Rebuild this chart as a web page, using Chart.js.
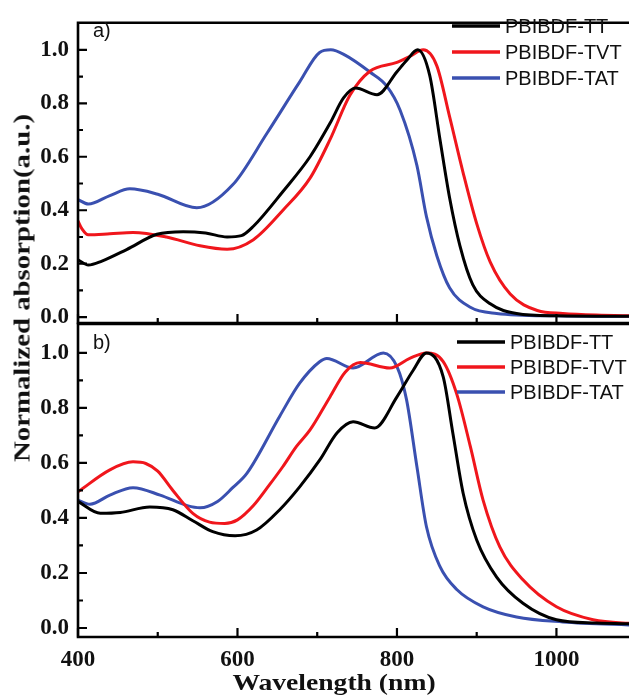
<!DOCTYPE html>
<html>
<head>
<meta charset="utf-8">
<script src="https://cdn.jsdelivr.net/npm/chart.js@4.4.1/dist/chart.umd.min.js"></script>
<style>
body { margin: 0; background: #fff; }
#wrap { position: relative; width: 629px; height: 695px; overflow: hidden; background: #fff; }
#wrap canvas { position: absolute; left: 0; top: 0; }
.ttl { position: absolute; font-family: "Liberation Serif", "Times New Roman", serif; font-weight: bold; color: #111; white-space: nowrap; }
#ytitle { left: 22px; top: 288px; font-size: 24px; transform: translate(-50%, -50%) rotate(-90deg) scaleX(1.2); }
#xtitle { left: 334px; top: 683px; font-size: 23px; transform: translate(-50%, -50%) scaleX(1.2); }
</style>
</head>
<body>
<div id="wrap">
  <canvas id="chartA" width="629" height="695"></canvas>
  <canvas id="chartB" width="629" height="695"></canvas>
  <div class="ttl" id="ytitle">Normalized absorption(a.u.)</div>
  <div class="ttl" id="xtitle">Wavelength (nm)</div>
</div>
<script>
let chartA; // panel a)
let chartB; // panel b)

// tick labels
const yTicks = [0, 0.2, 0.4, 0.6, 0.8, 1.0];
const yMinor = [0.1, 0.3, 0.5, 0.7, 0.9];
const xTicks = [400, 600, 800, 1000];
const xMinor = [500, 700, 900];

const seriesNames = ['PBIBDF-TT', 'PBIBDF-TVT', 'PBIBDF-TAT'];

// a) 
const aTT_nm  = [400, 413, 430, 461, 499, 532, 560, 587, 605, 620, 657, 691, 716, 733, 748, 775, 800, 812, 826, 841, 854, 866, 879, 895, 917, 950, 1000, 1100];
const aTT_abs = [0.215, 0.195, 0.21, 0.253, 0.31, 0.32, 0.315, 0.30, 0.305, 0.34, 0.47, 0.60, 0.725, 0.82, 0.857, 0.832, 0.918, 0.96, 1.0, 0.905, 0.664, 0.447, 0.267, 0.122, 0.05, 0.014, 0.005, 0.003];

const aTVT_nm  = [400, 405, 413, 440, 469, 511, 553, 587, 620, 657, 691, 716, 741, 766, 800, 816, 833, 850, 866, 883, 900, 917, 942, 976, 1008, 1050, 1100];
const aTVT_abs = [0.36, 0.33, 0.308, 0.312, 0.317, 0.30, 0.267, 0.254, 0.29, 0.40, 0.52, 0.664, 0.83, 0.92, 0.953, 0.975, 1.0, 0.94, 0.75, 0.54, 0.35, 0.206, 0.087, 0.025, 0.014, 0.008, 0.005];

const aTAT_nm  = [400, 413, 440, 465, 500, 549, 594, 637, 678, 703, 717, 735, 766, 787, 804, 825, 837, 850, 866, 892, 925, 1000, 1100];
const aTAT_abs = [0.44, 0.423, 0.455, 0.48, 0.46, 0.409, 0.495, 0.688, 0.88, 0.99, 1.0, 0.98, 0.917, 0.865, 0.774, 0.568, 0.376, 0.23, 0.11, 0.037, 0.014, 0.005, 0.003];

// b)
const bTT_nm  = [400, 428, 453, 490, 519, 544, 569, 597, 624, 653, 678, 703, 725, 745, 772, 800, 820, 837, 858, 870, 883, 900, 925, 958, 1000, 1050, 1100];
const bTT_abs = [0.46, 0.417, 0.42, 0.44, 0.43, 0.39, 0.35, 0.335, 0.356, 0.43, 0.513, 0.61, 0.71, 0.75, 0.727, 0.84, 0.935, 1.0, 0.913, 0.71, 0.49, 0.32, 0.185, 0.09, 0.03, 0.018, 0.015];

const bTVT_nm  = [400, 440, 469, 485, 500, 519, 544, 565, 584, 600, 620, 640, 657, 674, 691, 716, 735, 754, 791, 816, 837, 858, 875, 892, 908, 929, 958, 1000, 1046, 1100];
const bTVT_abs = [0.495, 0.575, 0.604, 0.598, 0.57, 0.50, 0.417, 0.385, 0.38, 0.393, 0.445, 0.52, 0.587, 0.66, 0.72, 0.84, 0.93, 0.965, 0.945, 0.98, 1.0, 0.968, 0.85, 0.66, 0.465, 0.295, 0.175, 0.077, 0.03, 0.015];

const bTAT_nm  = [400, 415, 440, 469, 503, 537, 553, 575, 594, 612, 653, 678, 703, 712, 745, 783, 800, 812, 825, 837, 854, 875, 908, 950, 1008, 1100];
const bTAT_abs = [0.465, 0.45, 0.483, 0.51, 0.483, 0.445, 0.437, 0.46, 0.51, 0.563, 0.77, 0.89, 0.968, 0.98, 0.945, 1.0, 0.95, 0.83, 0.587, 0.368, 0.223, 0.14, 0.077, 0.04, 0.022, 0.01];

const lineColors = ['#000000', '#f0161c', '#3a50b0'];

function toPoints(xs, ys) {
    return xs.map((x, i) => ({ x: x, y: ys[i] }));
}

// frame (top/left/bottom) + inward ticks
const frameTicks = {
    id: 'frameTicks',
    afterDatasetsDraw(chart) {
        const { ctx, chartArea: a, scales: { x, y } } = chart;
        ctx.save();
        ctx.strokeStyle = '#000';
        ctx.lineWidth = 2.6;
        ctx.lineJoin = 'miter';
        ctx.beginPath();
        ctx.moveTo(a.right + 5, a.top);
        ctx.lineTo(a.left, a.top);
        ctx.lineTo(a.left, a.bottom);
        ctx.lineTo(a.right + 5, a.bottom);
        ctx.stroke();

        ctx.lineWidth = 2.2;
        ctx.beginPath();
        yTicks.forEach(v => { const p = y.getPixelForValue(v); ctx.moveTo(a.left, p); ctx.lineTo(a.left + 9, p); });
        yMinor.forEach(v => { const p = y.getPixelForValue(v); ctx.moveTo(a.left, p); ctx.lineTo(a.left + 5, p); });
        xTicks.forEach(v => { const p = x.getPixelForValue(v); ctx.moveTo(p, a.bottom); ctx.lineTo(p, a.bottom - 9); });
        xMinor.forEach(v => { const p = x.getPixelForValue(v); ctx.moveTo(p, a.bottom); ctx.lineTo(p, a.bottom - 5); });
        ctx.stroke();
        ctx.restore();
    }
};

// legend + panel tag drawn inside the plot
const panelLegend = {
    id: 'panelLegend',
    afterDraw(chart, args, opts) {
        const ctx = chart.ctx;
        ctx.save();
        ctx.font = '20px "Liberation Sans", Arial, sans-serif';
        ctx.textBaseline = 'middle';
        ctx.fillStyle = '#111';
        ctx.fillText(opts.tag, opts.tagX, opts.tagY);
        chart.data.datasets.forEach((ds, i) => {
            const yy = opts.y + i * opts.step;
            ctx.strokeStyle = ds.borderColor;
            ctx.lineWidth = 3.5;
            ctx.beginPath();
            ctx.moveTo(opts.x, yy);
            ctx.lineTo(opts.x + 48, yy);
            ctx.stroke();
            ctx.fillStyle = '#111';
            ctx.fillText(ds.label, opts.x + 53, yy + 1);
        });
        ctx.restore();
    }
};

function makeDatasets(sets) {
    return sets.map((s, i) => ({
        label: seriesNames[i],
        data: toPoints(s[0], s[1]),
        borderColor: lineColors[i],
        backgroundColor: lineColors[i],
        borderWidth: 3,
        pointRadius: 0,
        fill: false,
        cubicInterpolationMode: 'monotone'
    }));
}

function drawPanel(id, sets, yMin, yMax, pad, showX, legendOpts) {
    const ctx = document.getElementById(id).getContext('2d');
    const config = {
        type: 'line',
        data: { datasets: makeDatasets(sets) },
        options: {
            responsive: false,
            animation: false,
            events: [],
            layout: { padding: pad },
            plugins: {
                legend: { display: false },
                tooltip: { enabled: false },
                panelLegend: legendOpts
            },
            scales: {
                x: {
                    type: 'linear',
                    min: 400,
                    max: 1091,
                    grid: { display: false, drawTicks: false },
                    border: { display: false },
                    afterBuildTicks: s => { s.ticks = xTicks.map(v => ({ value: v })); },
                    afterFit: s => { s.height = showX ? 58 : 0; },
                    ticks: {
                        display: showX,
                        padding: 9,
                        color: '#111',
                        font: { family: '"Liberation Serif", "Times New Roman", serif', weight: 'bold', size: 23 },
                        maxRotation: 0,
                        callback: v => String(v)
                    }
                },
                y: {
                    min: yMin,
                    max: yMax,
                    grid: { display: false, drawTicks: false },
                    border: { display: false },
                    afterBuildTicks: s => { s.ticks = yTicks.map(v => ({ value: v })); },
                    afterFit: s => { s.width = 78; },
                    ticks: {
                        padding: 9,
                        color: '#111',
                        font: { family: '"Liberation Serif", "Times New Roman", serif', weight: 'bold', size: 23 },
                        callback: v => v.toFixed(1)
                    }
                }
            }
        },
        plugins: [frameTicks, panelLegend]
    };
    return new Chart(ctx, config);
}

chartA = drawPanel('chartA',
    [[aTT_nm, aTT_abs], [aTVT_nm, aTVT_abs], [aTAT_nm, aTAT_abs]],
    -0.0217, 1.101,
    { top: 13, bottom: 372, left: 0, right: 0 },
    false,
    { tag: 'a)', tagX: 93, tagY: 31, x: 452, y: 26, step: 26 });

chartB = drawPanel('chartB',
    [[bTT_nm, bTT_abs], [bTVT_nm, bTVT_abs], [bTAT_nm, bTAT_abs]],
    -0.0327, 1.105,
    { top: 324, bottom: 0, left: 0, right: 0 },
    true,
    { tag: 'b)', tagX: 93, tagY: 343, x: 457, y: 342, step: 25 });
</script>
</body>
</html>
